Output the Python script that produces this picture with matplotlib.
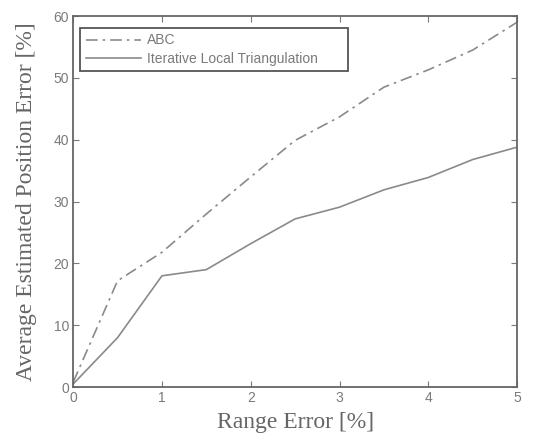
import matplotlib
matplotlib.use("Agg")
import matplotlib.pyplot as plt

range_error = [0, 0.5, 1, 1.5, 2, 2.5, 3, 3.5, 4, 4.5, 5]
abc = [0.8, 17.2, 21.8, 28.0, 34.0, 39.9, 43.7, 48.5, 51.3, 54.5, 59.0]
ilt = [0.5, 8.0, 18.0, 19.0, 23.2, 27.2, 29.1, 31.9, 33.9, 36.8, 38.8]

xticks = [0, 1, 2, 3, 4, 5]
yticks = [0, 10, 20, 30, 40, 50, 60]

line_c = "#8a8a8a"
text_c = "#7a7a7a"

fig = plt.figure(figsize=(5.42, 4.34), dpi=100)
ax = fig.add_axes([0.135, 0.108, 0.819, 0.855])

ax.plot(range_error, abc, linestyle=(0, (7, 3, 1.5, 3)), color=line_c, lw=1.2, label="ABC")
ax.plot(range_error, ilt, linestyle="-", color=line_c, lw=1.2, label="Iterative Local Triangulation")

ax.set_xlim(0, 5)
ax.set_ylim(0, 60)
ax.set_xticks(xticks)
ax.set_yticks(yticks)
ax.tick_params(direction="in", top=True, right=True, length=4, color=text_c,
               labelsize=10, labelcolor=text_c, pad=3)
for lab in ax.get_xticklabels() + ax.get_yticklabels():
    lab.set_family("Liberation Sans")
for s in ax.spines.values():
    s.set_color("#666666")
    s.set_linewidth(1.3)

ax.set_xlabel("Range Error [%]", family="Liberation Serif", fontsize=17, color="#666666", labelpad=5)
ax.set_ylabel("Average Estimated Position Error [%]", family="Liberation Serif", fontsize=17,
              color="#666666", labelpad=12)

leg = ax.legend(loc="upper left", bbox_to_anchor=(0.016, 0.968, 0.604, 0.0), mode="expand",
                fancybox=False, framealpha=1,
                edgecolor="#555555", prop={"family": "Liberation Sans", "size": 10},
                handlelength=4.0, borderpad=0.4, labelspacing=0.3, handletextpad=0.4,
                borderaxespad=0)
leg.get_frame().set_linewidth(1.3)
for t in leg.get_texts():
    t.set_color(text_c)

fig.savefig("out.png", dpi=100)
